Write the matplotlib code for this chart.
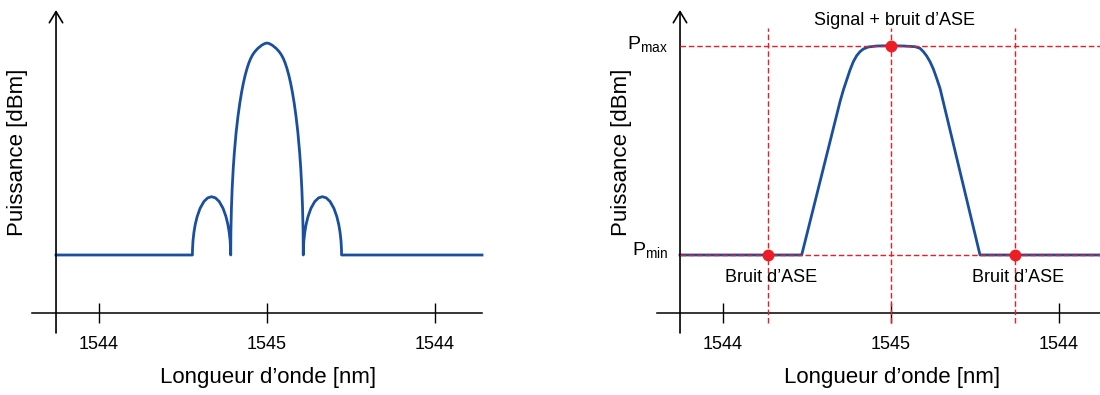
import matplotlib
matplotlib.use("Agg")
import matplotlib.pyplot as plt

plt.rcParams['font.family'] = ['Liberation Sans', 'DejaVu Sans']
plt.rcParams['mathtext.fontset'] = 'custom'
plt.rcParams['mathtext.rm'] = 'Liberation Sans'

# --- data (wavelength in nm, power in dBm) ---
tick_pos = [1544, 1545, 1546]
tick_labels = ['1544', '1545', '1544']

# left: sinc-like spectrum, read lobe by lobe
floor_left_wl = [1543.744]
floor_left_pw = [-40]
lobe1_wl = [1544.556, 1544.5566, 1544.5594, 1544.5651, 1544.5731, 1544.5845, 1544.6016, 1544.6244, 1544.6472, 1544.670,
            1544.6928, 1544.7156, 1544.7384, 1544.7555, 1544.7669, 1544.7749, 1544.7806, 1544.7834, 1544.784]
lobe1_pw = [-40, -38.9, -37.33, -35.69, -34.2, -32.73, -31.2, -29.91, -29.22, -29.0,
            -29.22, -29.91, -31.2, -32.73, -34.2, -35.69, -37.33, -38.9, -40]
main_wl = [1544.7851, 1544.7883, 1544.7926, 1544.7991, 1544.8056, 1544.8164, 1544.8272, 1544.838, 1544.8488, 1544.8596,
           1544.8704, 1544.8812, 1544.892, 1544.9028, 1544.9136, 1544.9244, 1544.9352, 1544.946, 1544.9568, 1544.9676,
           1544.9784, 1544.9892, 1545.000,
           1545.0108, 1545.0216, 1545.0324, 1545.0432, 1545.054, 1545.0648, 1545.0756, 1545.0864, 1545.0972, 1545.108,
           1545.1188, 1545.1296, 1545.1404, 1545.1512, 1545.162, 1545.1728, 1545.1836, 1545.1944, 1545.2009, 1545.2074,
           1545.2117, 1545.2149]
main_pw = [-35.52, -31.12, -27.48, -23.6, -20.68, -16.8, -13.84, -11.36, -9.28, -7.52,
           -6.04, -4.8, -3.76, -2.92, -2.28, -1.76, -1.36, -1.0, -0.72, -0.44,
           -0.24, -0.08, 0.0,
           -0.08, -0.24, -0.44, -0.72, -1.0, -1.36, -1.76, -2.28, -2.92, -3.76,
           -4.8, -6.04, -7.52, -9.28, -11.36, -13.84, -16.8, -20.68, -23.6, -27.48,
           -31.12, -35.52]
lobe2_wl = [1545.216, 1545.2166, 1545.2194, 1545.2251, 1545.2331, 1545.2445, 1545.2616, 1545.2844, 1545.3072, 1545.330,
            1545.3528, 1545.3756, 1545.3984, 1545.4155, 1545.4269, 1545.4349, 1545.4406, 1545.4434, 1545.444]
lobe2_pw = [-40, -38.9, -37.33, -35.69, -34.2, -32.73, -31.2, -29.91, -29.22, -29.0,
            -29.22, -29.91, -31.2, -32.73, -34.2, -35.69, -37.33, -38.9, -40]
floor_right_wl = [1546.280]
floor_right_pw = [-40]

# right: signal + ASE noise
wl_b = [1543.744, 1544.4683, 1544.6964, 1544.7163, 1544.7361, 1544.756, 1544.7758, 1544.7956, 1544.8155, 1544.8353,
        1544.865, 1544.9147, 1545.000, 1545.0734, 1545.1429, 1545.1726, 1545.1925, 1545.2123, 1545.2321, 1545.252,
        1545.2718, 1545.2917, 1545.5298, 1546.244]
pw_b = [-40, -40, -10.70, -8.47, -6.56, -4.64, -3.05, -1.91, -1.14, -0.63,
        -0.25, -0.06, 0.0, -0.06, -0.19, -0.5, -1.14, -1.97, -3.05, -4.45,
        -6.24, -8.15, -40, -40]

ase_wl = [1544.268, 1545.738]
sig_wl = 1545.0
p_max = 0.0
p_min = -40.0

BLUE = '#1a4f9f'
RED = '#ee1c24'
W, H = 1100, 395


def rect(x0, x1, ytop, ybot):
    return [x0 / W, 1 - ybot / H, (x1 - x0) / W, (ybot - ytop) / H]


def setup(ax, xlim, ylim, xaxis_y, yaxis_x):
    ax.set_xlim(*xlim)
    ax.set_ylim(*ylim)
    for s in ['left', 'right', 'top']:
        ax.spines[s].set_visible(False)
    ax.spines['bottom'].set_position(('data', xaxis_y))
    ax.spines['bottom'].set_linewidth(1.1)
    ax.set_xticks(tick_pos)
    ax.set_xticklabels(tick_labels)
    ax.tick_params(axis='x', direction='inout', length=14.5, width=1.0, labelsize=13, pad=9)
    ax.tick_params(axis='y', left=False, labelleft=False)
    ax.patch.set_alpha(0)
    # y axis with arrow
    ax.annotate('', xy=(yaxis_x, ylim[1]), xytext=(yaxis_x, ylim[0]),
                arrowprops=dict(arrowstyle='->,head_length=0.5,head_width=0.3', lw=1.2,
                                color='black', shrinkA=0, shrinkB=0, mutation_scale=16),
                annotation_clip=False)


fig = plt.figure(figsize=(11, 3.95), dpi=100)

# ---------- left panel ----------
ax1 = fig.add_axes(rect(32, 482, 10, 333))
setup(ax1, (1543.601, 1546.280), (-54.72, 6.23), -50.94, 1543.744)
wl_a = floor_left_wl + lobe1_wl + main_wl + lobe2_wl + floor_right_wl
pw_a = floor_left_pw + lobe1_pw + main_pw + lobe2_pw + floor_right_pw
ax1.plot(wl_a, pw_a, color=BLUE, lw=2.0, solid_joinstyle='round', clip_on=False)

fig.text(17.5 / W, 1 - 152 / H, 'Puissance [dBm]', rotation=90, ha='center', va='center', fontsize=16)
fig.text(268 / W, 1 - 378 / H, 'Longueur d\u2019onde [nm]', ha='center', va='center', fontsize=16)

# ---------- right panel ----------
ax2 = fig.add_axes(rect(657, 1100, 10, 333))
setup(ax2, (1543.607, 1546.244), (-54.91, 6.82), -51.08, 1543.744)
ax2.plot(wl_b, pw_b, color=BLUE, lw=2.0, solid_joinstyle='round', clip_on=False, zorder=2)

dash = (0, (4, 2))
for x in ase_wl + [sig_wl]:
    ax2.plot([x, x], [-53.0, 3.38], color=RED, lw=1.0, ls=dash, zorder=3)
for y in [p_max, p_min]:
    ax2.plot([1543.744, 1546.244], [y, y], color=RED, lw=1.0, ls=dash, zorder=3, clip_on=False)
ax2.plot(ase_wl + [sig_wl], [p_min, p_min, p_max], 'o', color=RED, ms=7.5, zorder=4)

ax2.text(1545.02, 4.9, 'Signal + bruit d\u2019ASE', ha='center', va='center', fontsize=13)
ax2.text(ase_wl[0] + 0.02, -44.3, 'Bruit d\u2019ASE', ha='center', va='center', fontsize=13)
ax2.text(ase_wl[1] + 0.02, -44.3, 'Bruit d\u2019ASE', ha='center', va='center', fontsize=13)
ax2.text(1543.673, -0.8, r'P$_{\mathrm{max}}$', ha='right', va='baseline', fontsize=14)
ax2.text(1543.673, -40.2, r'P$_{\mathrm{min}}$', ha='right', va='baseline', fontsize=14)

fig.text(621 / W, 1 - 152 / H, 'Puissance [dBm]', rotation=90, ha='center', va='center', fontsize=16)
fig.text(892 / W, 1 - 378 / H, 'Longueur d\u2019onde [nm]', ha='center', va='center', fontsize=16)

fig.savefig('out.png', dpi=100)
